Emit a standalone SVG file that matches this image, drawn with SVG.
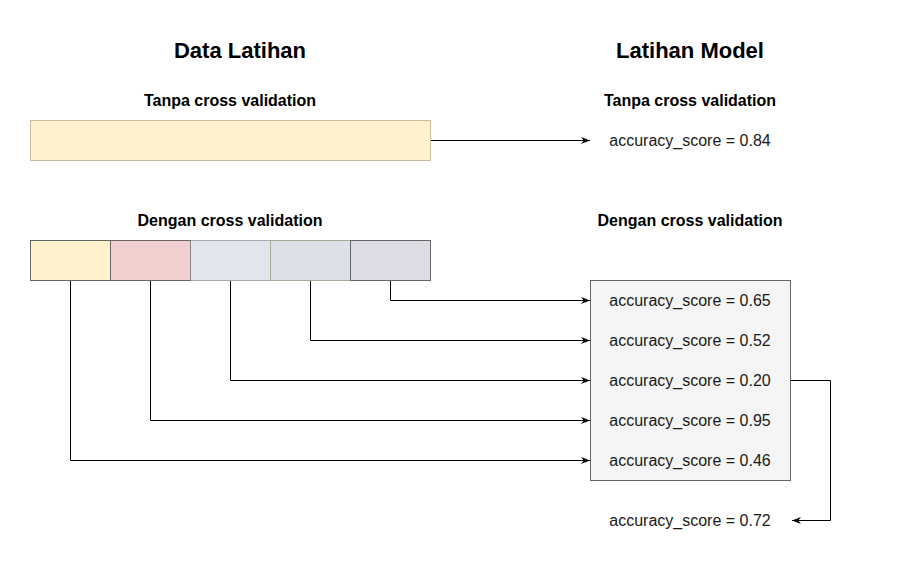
<svg xmlns="http://www.w3.org/2000/svg" width="921" height="571" viewBox="0 0 921 571">
<defs>
<marker id="arr" viewBox="0 0 10 10" refX="10" refY="5" markerWidth="9" markerHeight="9" markerUnits="userSpaceOnUse" orient="auto">
<path d="M0,1 L10,5 L0,9 L3,5 Z" fill="#000"/>
</marker>
<style>
.title{font-family:"Liberation Sans",Arial,sans-serif;font-size:22px;font-weight:bold;fill:#000;text-anchor:middle}
.sub{font-family:"Liberation Sans",Arial,sans-serif;font-size:16px;font-weight:bold;fill:#000;text-anchor:middle}
.score{font-family:"Liberation Sans",Arial,sans-serif;font-size:16px;fill:#1a1a1a;text-anchor:middle}
.conn{fill:none;stroke:#000;stroke-width:1;marker-end:url(#arr)}
</style>
</defs>
<rect width="921" height="571" fill="#fff"/>
<g id="titles">
<text class="title" x="240" y="58">Data Latihan</text>
<text class="title" x="690" y="58">Latihan Model</text>
<text class="sub" x="230" y="106">Tanpa cross validation</text>
<text class="sub" x="690" y="106">Tanpa cross validation</text>
<text class="sub" x="230" y="226">Dengan cross validation</text>
<text class="sub" x="690" y="226">Dengan cross validation</text>
</g>
<g id="bar-full"><rect x="30.5" y="120.5" width="400" height="40" fill="#fff2cc" stroke="#c9bd9e"/></g>
<g id="fold1"><rect x="30.5" y="240.5" width="80" height="40" fill="#fff2cc" stroke="#666"/></g>
<g id="fold2"><rect x="110.5" y="240.5" width="80" height="40" fill="#f0cfcf" stroke="#666"/></g>
<g id="fold3"><rect x="190.5" y="240.5" width="80" height="40" fill="#e2e6ec" stroke="#666" stroke-dasharray="1,1"/></g>
<g id="fold4"><rect x="270.5" y="240.5" width="80" height="40" fill="#dce0e7" stroke="#a9a99a"/></g>
<g id="fold5"><rect x="350.5" y="240.5" width="80" height="40" fill="#dcdde4" stroke="#666"/></g>
<g id="score-full"><text class="score" x="690" y="146">accuracy_score = 0.84</text></g>
<g id="scores-box">
<rect x="590.5" y="280.5" width="200" height="200" fill="#f5f5f5" stroke="#666"/>
<text class="score" x="690" y="306">accuracy_score = 0.65</text>
<text class="score" x="690" y="346">accuracy_score = 0.52</text>
<text class="score" x="690" y="386">accuracy_score = 0.20</text>
<text class="score" x="690" y="426">accuracy_score = 0.95</text>
<text class="score" x="690" y="466">accuracy_score = 0.46</text>
</g>
<g id="score-final"><text class="score" x="690" y="526">accuracy_score = 0.72</text></g>
<g id="connectors">
<path class="conn" d="M431,140.5 H590"/>
<path class="conn" d="M390.5,281 V300.5 H590"/>
<path class="conn" d="M310.5,281 V340.5 H590"/>
<path class="conn" d="M230.5,281 V380.5 H590"/>
<path class="conn" d="M150.5,281 V420.5 H590"/>
<path class="conn" d="M70.5,281 V460.5 H590"/>
<path class="conn" d="M791,380.5 H830.5 V520.5 H792"/>
</g>
</svg>
